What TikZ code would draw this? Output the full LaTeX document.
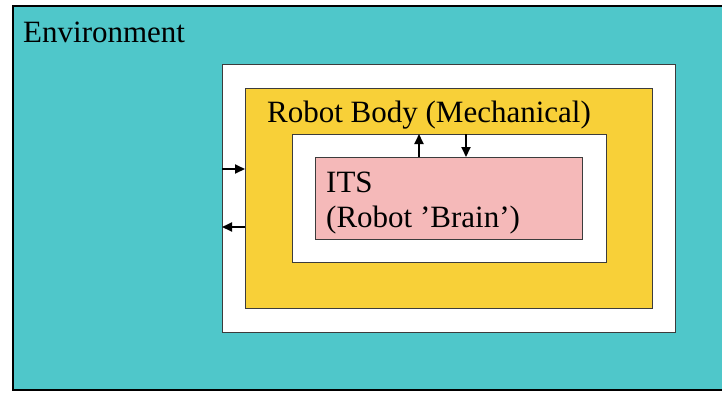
\documentclass[tikz,border=0pt]{standalone}
\usepackage{fontspec}
\setmainfont{Liberation Serif}
\usetikzlibrary{arrows.meta}
\definecolor{envteal}{RGB}{79,199,202}
\definecolor{bodyyellow}{RGB}{248,208,56}
\definecolor{brainpink}{RGB}{245,185,185}
\definecolor{edgegray}{RGB}{60,60,60}
\tikzset{
  box/.style={draw=edgegray, line width=1pt, inner sep=0pt, anchor=north west},
  lbl/.style={anchor=base west, inner sep=0pt, font=\fontsize{31}{35}\selectfont},
  flow/.style={line width=1.8pt, -{Triangle[length=10pt,width=9pt]}}
}
\begin{document}
\begin{tikzpicture}[x=1pt,y=-1pt]
\useasboundingbox (0,0) rectangle (722,392);
\node[box, draw=black, line width=1.8pt, fill=envteal, minimum width=730pt, minimum height=384pt] (env) at (12,5) {};
\node[box, fill=white, minimum width=453pt, minimum height=268pt] (outer) at (222,64) {};
\node[box, fill=bodyyellow, minimum width=407pt, minimum height=220pt] (body) at (245,88) {};
\node[box, fill=white, minimum width=314pt, minimum height=128pt] (inner) at (292,134) {};
\node[box, fill=brainpink, minimum width=267pt, minimum height=82pt] (its) at (315,157) {};
\node[lbl] (envlbl) at (23,42) {Environment};
\node[lbl] (bodylbl) at (267,122) {Robot Body (Mechanical)};
\node[lbl] (itslbl) at (326,192) {ITS};
\node[lbl] (brainlbl) at (326,227) {(Robot ’Brain’)};
\coordinate (ua) at (419,0);
\coordinate (da) at (466,0);
\coordinate (ra) at (0,169);
\coordinate (la) at (0,227);
\draw[flow] (ua |- its.north) -- (ua |- inner.north);
\draw[flow] (da |- inner.north) -- (da |- its.north);
\draw[flow] (outer.west |- ra) -- (body.west |- ra);
\draw[flow] (body.west |- la) -- (outer.west |- la);
\end{tikzpicture}
\end{document}
